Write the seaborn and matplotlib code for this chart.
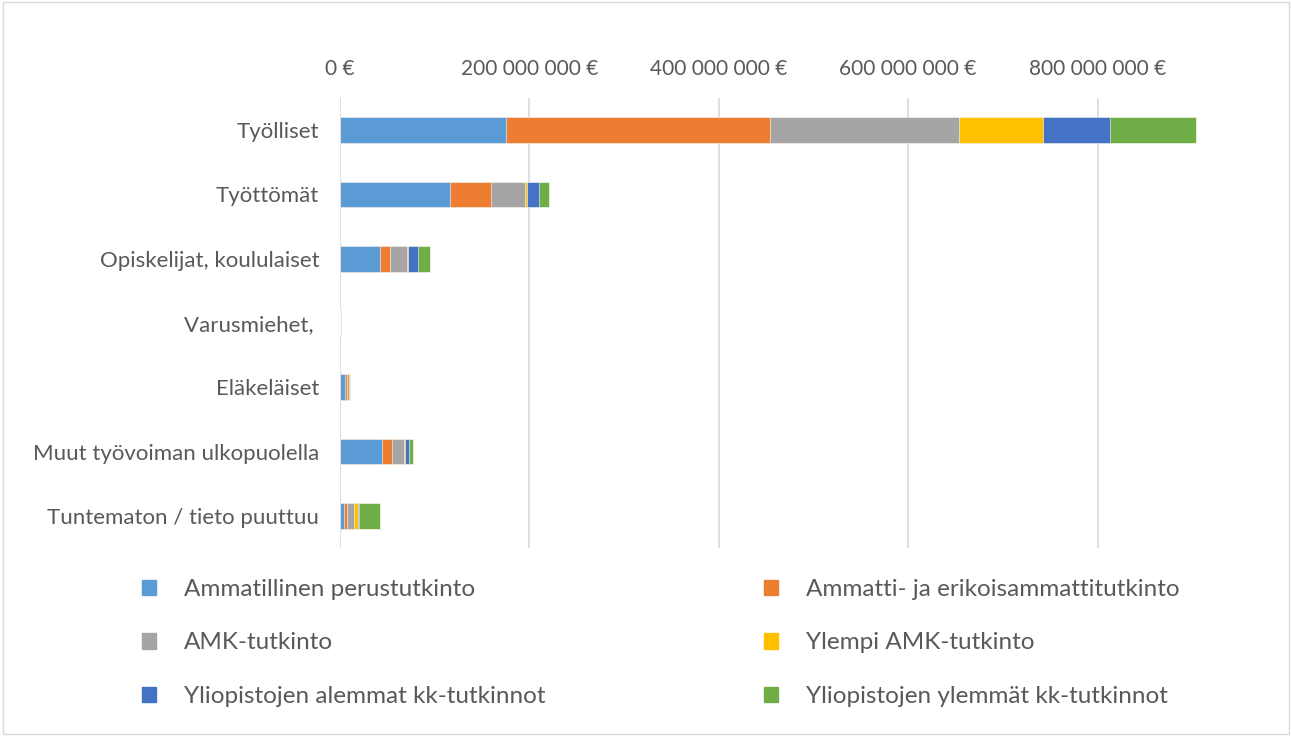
import matplotlib
matplotlib.use("Agg")
import matplotlib.pyplot as plt
import matplotlib.ticker as ticker
import matplotlib.patches as mpatches
import seaborn as sns
import pandas as pd

# data (euros)
ryhmat = ['Työlliset', 'Työttömät', 'Opiskelijat, koululaiset', 'Varusmiehet, ',
          'Eläkeläiset', 'Muut työvoiman ulkopuolella', 'Tuntematon / tieto puuttuu']
sarjat = ['Ammatillinen perustutkinto', 'Ammatti- ja erikoisammattitutkinto',
          'AMK-tutkinto', 'Ylempi AMK-tutkinto',
          'Yliopistojen alemmat kk-tutkinnot', 'Yliopistojen ylemmät kk-tutkinnot']
ammatillinen = [175e6, 116e6, 42e6, 0.3e6, 5e6, 44e6, 4.2e6]
ammatti_erik = [279e6, 43e6, 11e6, 0.1e6, 2e6, 11e6, 2.8e6]
amk = [200e6, 36e6, 18e6, 0.3e6, 3e6, 12.7e6, 7.7e6]
ylempi_amk = [88e6, 3e6, 1e6, 0.0, 0.2e6, 1.4e6, 4.2e6]
yo_alemmat = [71e6, 12e6, 10.5e6, 0.1e6, 0.2e6, 4.2e6, 1.0e6]
yo_ylemmat = [91e6, 10.5e6, 12.7e6, 0.2e6, 0.3e6, 3.5e6, 22e6]
varit = ['#5B9BD5', '#ED7D31', '#A5A5A5', '#FFC000', '#4472C4', '#70AD47']

df = pd.DataFrame({'ryhma': ryhmat})
arvot = [ammatillinen, ammatti_erik, amk, ylempi_amk, yo_alemmat, yo_ylemmat]
for nimi, a in zip(sarjat, arvot):
    df[nimi] = a
kum = df[sarjat].cumsum(axis=1)

sns.set_style('white')
plt.rcParams['font.family'] = ['Lato', 'DejaVu Sans']

fig = plt.figure(figsize=(12.92, 7.36), dpi=100)
ax = fig.add_axes([340 / 1292, 1 - 548 / 736, (1197 - 340) / 1292, 450 / 736])

# stacked bars: draw cumulative totals from the last series back
for i in range(len(sarjat) - 1, -1, -1):
    sns.barplot(x=kum[sarjat[i]], y=df['ryhma'], color=varit[i], orient='h',
                width=0.4, ax=ax, edgecolor='white', linewidth=0.4, zorder=3,
                saturation=1)

ax.set_xlim(0, 905e6)
ax.xaxis.set_major_locator(ticker.MultipleLocator(200e6))
ax.xaxis.set_major_formatter(ticker.FuncFormatter(
    lambda v, p: '{:,.0f} €'.format(v).replace(',', ' ')))
ax.xaxis.tick_top()
ax.grid(axis='x', color='#d9d9d9', linewidth=1.2, zorder=0)
ax.set_axisbelow(True)
ax.set_xlabel('')
ax.set_ylabel('')
sns.despine(ax=ax, left=True, bottom=True, top=True, right=True)
ax.tick_params(axis='x', length=0, pad=14, labelsize=15, labelcolor='#595959')
ax.tick_params(axis='y', length=0, pad=15, labelsize=16, labelcolor='#595959')

# legend, two columns filled row by row
kahvat = [mpatches.Patch(color=c, label=s) for c, s in zip(varit, sarjat)]
for ryhma_k, x0 in [([kahvat[0], kahvat[2], kahvat[4]], 120),
                    ([kahvat[1], kahvat[3], kahvat[5]], 742)]:
    fig.legend(handles=ryhma_k, loc='upper left',
               bbox_to_anchor=(x0 / 1292, 1 - 557 / 736), frameon=False,
               fontsize=17.5, labelcolor='#595959', handlelength=0.6, handleheight=0.6,
               handletextpad=1.15, labelspacing=1.34)

fig.patches.append(mpatches.Rectangle((0.002, 0.003), 0.996, 0.994, transform=fig.transFigure,
                                      fill=False, edgecolor='#d9d9d9', linewidth=1))

fig.savefig('out.png', dpi=100, facecolor='white')
